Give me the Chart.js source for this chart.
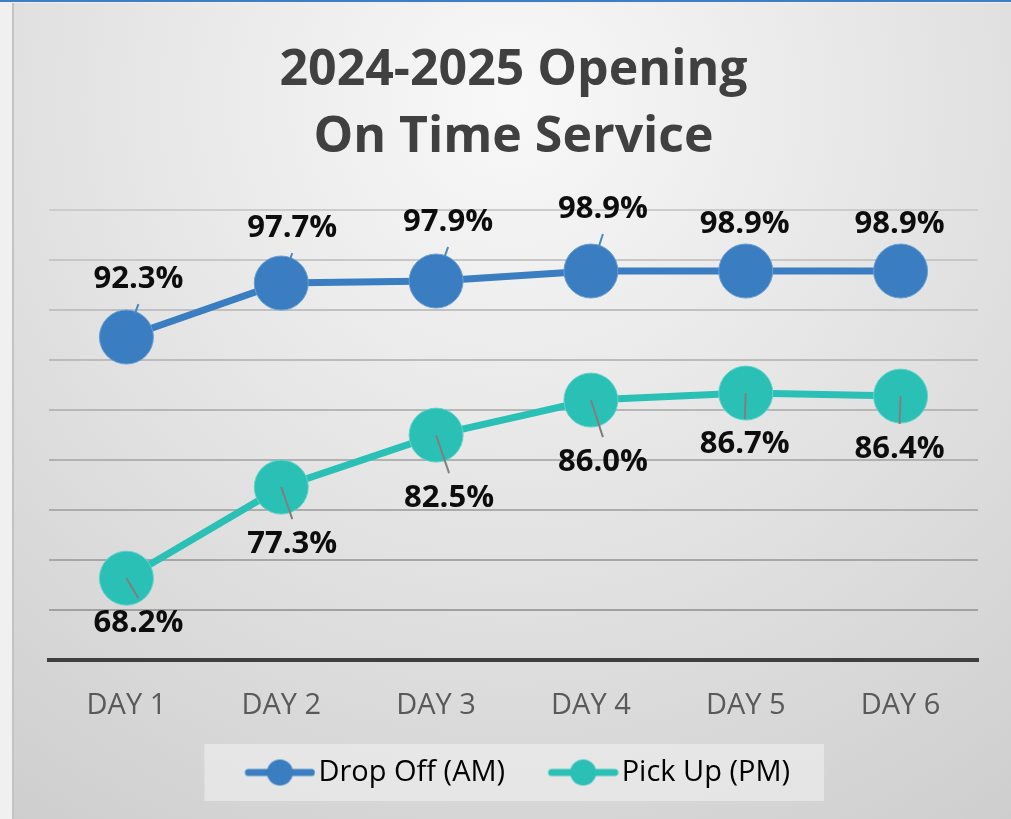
<!DOCTYPE html>
<html>
<head>
<script src="https://cdn.jsdelivr.net/npm/chart.js@4"></script>
<style>
  body { margin: 0; background: #f0f0f0; width: 1011px; height: 819px; overflow: hidden; }
  #topline { position: absolute; left: 0; top: 0; width: 1011px; height: 2px; background: #3d7ec4; }
  #box { position: absolute; left: 12px; top: 3px; width: 999px; height: 816px; border-left: 2px solid #c3c3c3; box-sizing: border-box; }
</style>
</head>
<body>
<div id="topline"></div>
<div id="box"><canvas id="canvas"></canvas></div>
<script>
const days = ['DAY 1', 'DAY 2', 'DAY 3', 'DAY 4', 'DAY 5', 'DAY 6'];
const dropOff = [92.3, 97.7, 97.9, 98.9, 98.9, 98.9];
const pickUp = [68.2, 77.3, 82.5, 86.0, 86.7, 86.4];
const seriesNames = ['Drop Off (AM)', 'Pick Up (PM)'];
const titleLines = ['2024-2025 Opening', 'On Time Service'];

const BLUE = '#3a7dc0';
const TEAL = '#2bc0b6';

// label nudges (px from the point), Excel placed them by hand
const dropShift = [[12, -58], [11, -55], [12, -59], [12, -62], [-1, -47], [-1, -47]];
const pickShift = [[12, 45], [11, 57], [13, 63], [12, 62], [-1, 51], [-1, 53]];

const ICON_BOX = 87;
const LEGEND_FONT = 29;
const ICON_START = ICON_BOX + LEGEND_FONT / 2 - 74; // where the swatch begins inside an item

// line + marker swatch, sitting at the right end of the legend box
function legendIcon(color) {
  const c = document.createElement('canvas');
  c.width = Math.round(2 * (ICON_BOX + LEGEND_FONT / 2 - 3 - ICON_BOX / 2));
  c.height = 30;
  const g = c.getContext('2d');
  const x1 = c.width, x0 = x1 - 71;
  g.strokeStyle = color; g.lineWidth = 7; g.lineCap = 'round';
  g.beginPath(); g.moveTo(x0 + 4, 15); g.lineTo(x1 - 4, 15); g.stroke();
  g.fillStyle = color;
  g.beginPath(); g.arc((x0 + x1) / 2, 15, 13, 0, Math.PI * 2); g.fill();
  return c;
}

const background = {
  id: 'background',
  afterLayout(chart) {
    // Excel's legend sits a bit left of where Chart.js centres it
    chart.legend.left -= 10;
    chart.legend.right -= 10;
  },
  beforeDraw(chart) {
    const { ctx, width, height } = chart;
    ctx.save();
    const g = ctx.createRadialGradient(width * 0.5, height * 0.12, 10, width * 0.5, height * 0.12, width * 0.9);
    g.addColorStop(0, '#f8f8f8');
    g.addColorStop(1, '#cdcdcd');
    ctx.fillStyle = g;
    ctx.fillRect(0, 0, width, height);
    const hb = chart.legend && chart.legend.legendHitBoxes;
    if (hb && hb.length) {
      const l = Math.min(...hb.map(h => h.left)) + ICON_START - 40;
      const r = Math.max(...hb.map(h => h.left + h.width)) + 34;
      const cy = hb[0].top + hb[0].height / 2;
      ctx.fillStyle = 'rgba(240,240,240,0.6)';
      ctx.fillRect(l, cy - 28.5, r - l, 57);
    }
    ctx.restore();
  }
};

const pointLabels = {
  id: 'pointLabels',
  afterDatasetsDraw(chart) {
    const ctx = chart.ctx;
    ctx.save();
    chart.data.datasets.forEach((ds, i) => {
      const meta = chart.getDatasetMeta(i);
      meta.data.forEach((pt, j) => {
        const [dx, dy] = ds.labelShift[j];
        const lx = pt.x + dx, ly = pt.y + dy;
        const s = Math.sign(dy);
        const ex = lx, ey = ly - s * 25;
        const vx = ex - pt.x, vy = ey - pt.y;
        const len = Math.hypot(vx, vy);
        const st = ds.leaderStart;
        if (len - st > 3) {
          ctx.strokeStyle = ds.leaderColor;
          ctx.lineWidth = 2;
          ctx.beginPath();
          ctx.moveTo(pt.x + vx / len * st, pt.y + vy / len * st);
          ctx.lineTo(ex, ey);
          ctx.stroke();
        }
        ctx.fillStyle = '#0d0d0d';
        ctx.font = 'bold 31px "Open Sans"';
        ctx.textAlign = 'center';
        ctx.textBaseline = 'middle';
        ctx.fillText(ds.data[j].toFixed(1) + '%', lx, ly);
      });
    });
    ctx.restore();
  }
};

new Chart(document.getElementById('canvas'), {
  type: 'line',
  data: {
    labels: days,
    datasets: [
      {
        label: seriesNames[0], data: dropOff,
        borderColor: BLUE, backgroundColor: BLUE, borderWidth: 7,
        pointRadius: 27, pointBackgroundColor: BLUE, pointBorderColor: '#6a9fd3', pointBorderWidth: 1,
        labelShift: dropShift, leaderStart: 25, leaderColor: '#4a86c4'
      },
      {
        label: seriesNames[1], data: pickUp,
        borderColor: TEAL, backgroundColor: TEAL, borderWidth: 7,
        pointRadius: 27, pointBackgroundColor: TEAL, pointBorderColor: '#63d3cb', pointBorderWidth: 1,
        labelShift: pickShift, leaderStart: 0, leaderColor: '#7f7f7f'
      }
    ]
  },
  options: {
    responsive: true,
    maintainAspectRatio: false,
    animation: false,
    layout: { padding: { left: 35, right: 33, top: 0, bottom: 22 } },
    scales: {
      x: {
        offset: true,
        grid: { display: false },
        border: { color: '#3f3f3f', width: 4 },
        ticks: { color: '#595959', font: { family: 'Open Sans', size: 29 }, padding: 20 }
      },
      y: {
        min: 60, max: 105,
        ticks: { display: false, stepSize: 5 },
        border: { display: false },
        grid: {
          drawTicks: false,
          lineWidth: 2,
          color: (c) => {
            const k = (c.tick.value - 60) / 45;
            const v = Math.round(0x9c + (0xcc - 0x9c) * k);
            return 'rgb(' + v + ',' + v + ',' + v + ')';
          }
        }
      }
    },
    plugins: {
      title: {
        display: true,
        text: titleLines,
        color: '#404040',
        font: { family: 'Open Sans', size: 50, weight: 'bold', lineHeight: 1.34 },
        padding: { top: 34, bottom: 39 }
      },
      legend: {
        position: 'bottom',
        labels: {
          usePointStyle: true,
          pointStyleWidth: ICON_BOX,
          padding: 15,
          color: '#404040',
          font: { family: 'Open Sans', size: LEGEND_FONT },
          generateLabels(chart) {
            return chart.data.datasets.map((ds, i) => ({
              text: ds.label,
              pointStyle: legendIcon(ds.borderColor),
              fillStyle: ds.borderColor,
              strokeStyle: ds.borderColor,
              lineWidth: 0,
              hidden: false,
              datasetIndex: i
            }));
          }
        }
      },
      tooltip: { enabled: false }
    }
  },
  plugins: [background, pointLabels]
});
</script>
</body>
</html>
